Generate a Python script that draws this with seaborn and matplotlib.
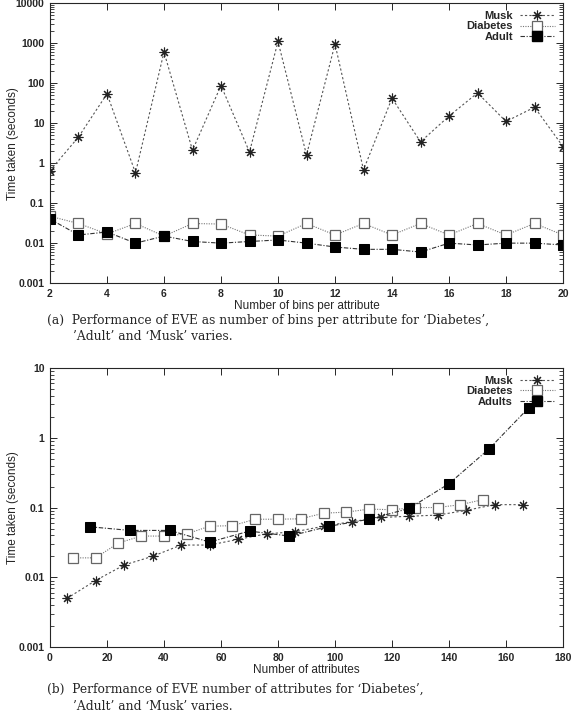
import numpy as np
import pandas as pd
import matplotlib
matplotlib.use("Agg")
import matplotlib.pyplot as plt
import seaborn as sns
from matplotlib.lines import Line2D
from matplotlib.ticker import LogLocator, FixedLocator, NullFormatter

# (a) time vs number of bins per attribute
bins = list(range(2, 21))
musk_bins = [0.65, 4.5, 54, 0.57, 600, 2.1, 87, 1.9, 1100, 1.6, 950, 0.68, 42, 3.4, 15, 57, 11, 25, 2.6]
diabetes_bins = [0.047, 0.031, 0.017, 0.031, 0.015, 0.031, 0.030, 0.016, 0.015, 0.031, 0.016,
                 0.031, 0.016, 0.031, 0.016, 0.031, 0.016, 0.031, 0.016]
adult_bins = [0.040, 0.016, 0.019, 0.010, 0.015, 0.011, 0.010, 0.011, 0.012, 0.010, 0.008,
              0.007, 0.007, 0.006, 0.010, 0.009, 0.010, 0.010, 0.009]

# (b) time vs number of attributes
musk_attr_x = [6, 16, 26, 36, 46, 56, 66, 76, 86, 96, 106, 116, 126, 136, 146, 156, 166]
musk_attr = [0.005, 0.009, 0.015, 0.020, 0.029, 0.029, 0.035, 0.042, 0.045, 0.054, 0.063,
             0.072, 0.075, 0.078, 0.091, 0.11, 0.11]
diab_attr_x = [8, 16, 24, 32, 40, 48, 56, 64, 72, 80, 88, 96, 104, 112, 120, 128, 136, 144, 152]
diab_attr = [0.019, 0.019, 0.031, 0.039, 0.039, 0.042, 0.054, 0.055, 0.068, 0.068, 0.069,
             0.083, 0.086, 0.095, 0.093, 0.10, 0.10, 0.11, 0.13]
adult_attr_x = [14, 28, 42, 56, 70, 84, 98, 112, 126, 140, 154, 168]
adult_attr = [0.053, 0.047, 0.047, 0.032, 0.046, 0.039, 0.054, 0.068, 0.097, 0.22, 0.69, 2.7]

sns.set_style("ticks")
plt.rcParams["font.family"] = ["Liberation Sans", "DejaVu Sans"]

asterisk = (8, 2, 0)
styles = {
    "Musk": dict(color="#555555", linestyle=(0, (2, 2)), linewidth=0.8, marker=asterisk,
                 markersize=7, markeredgecolor="#222222", markeredgewidth=0.8),
    "Diabetes": dict(color="#777777", linestyle=(0, (1, 1.2)), linewidth=0.8, marker="s",
                     markersize=6.5, markerfacecolor="white", markeredgecolor="#666666",
                     markeredgewidth=0.9),
    "Adult": dict(color="#333333", linestyle=(0, (4, 1.5, 1, 1.5)), linewidth=0.8, marker="s",
                  markersize=6.5, markerfacecolor="black", markeredgecolor="black"),
}

fig = plt.figure(figsize=(5.72, 7.15), dpi=100)
ax1 = fig.add_axes([0.0874, 0.604, 0.8969, 0.3916])
ax2 = fig.add_axes([0.0874, 0.095, 0.8969, 0.3903])

df_a = pd.DataFrame({"bins": bins, "Musk": musk_bins, "Diabetes": diabetes_bins, "Adult": adult_bins})
for name in ["Musk", "Diabetes", "Adult"]:
    sns.lineplot(data=df_a, x="bins", y=name, ax=ax1, legend=False, **styles[name])

sns.lineplot(x=musk_attr_x, y=musk_attr, ax=ax2, legend=False, **styles["Musk"])
sns.lineplot(x=diab_attr_x, y=diab_attr, ax=ax2, legend=False, **styles["Diabetes"])
sns.lineplot(x=adult_attr_x, y=adult_attr, ax=ax2, legend=False, **styles["Adult"])


def style_axis(ax, xlim, xticks, ylim, yticks, xlabel, names):
    ax.set_yscale("log")
    ax.set_xlim(*xlim)
    ax.set_ylim(*ylim)
    ax.set_xticks(xticks)
    ax.set_xticklabels([str(t) for t in xticks])
    ax.yaxis.set_major_locator(FixedLocator(yticks))
    ax.set_yticklabels([("%g" % t) for t in yticks])
    ax.yaxis.set_minor_locator(LogLocator(base=10, subs=np.arange(2, 10), numticks=20))
    ax.yaxis.set_minor_formatter(NullFormatter())
    ax.tick_params(which="both", direction="in", top=True, right=True, labelsize=7.5, pad=4)
    ax.tick_params(which="major", length=5, width=0.7)
    ax.tick_params(which="minor", length=3, width=0.6)
    for lab in ax.get_xticklabels() + ax.get_yticklabels():
        lab.set_fontweight("bold")
    for sp in ax.spines.values():
        sp.set_visible(True)
        sp.set_linewidth(0.8)
    ax.set_xlabel(xlabel, fontsize=8.5, labelpad=1)
    ax.set_ylabel("Time taken (seconds)", fontsize=8.5)
    ax.yaxis.set_label_coords(-0.06, 0.5)
    handles = [Line2D([], [], **styles[k]) for k in ["Musk", "Diabetes", "Adult"]]
    leg = ax.legend(handles, names, loc="upper right", frameon=False, markerfirst=False,
                    fontsize=8, numpoints=1, handlelength=3.2, handletextpad=0.6,
                    labelspacing=0.05, borderaxespad=0.3)
    for t in leg.get_texts():
        t.set_fontweight("bold")


style_axis(ax1, (2, 20), list(range(2, 21, 2)), (0.001, 10000),
           [0.001, 0.01, 0.1, 1, 10, 100, 1000, 10000], "Number of bins per attribute",
           ["Musk", "Diabetes", "Adult"])
style_axis(ax2, (0, 180), list(range(0, 181, 20)), (0.001, 10),
           [0.001, 0.01, 0.1, 1, 10], "Number of attributes",
           ["Musk", "Diabetes", "Adults"])

cap_font = dict(family=["DejaVu Serif"], fontsize=8.8, va="top", ha="left")
fig.text(0.082, 1 - 314 / 715, "(a)  Performance of EVE as number of bins per attribute for \u2018Diabetes\u2019,", **cap_font)
fig.text(0.128, 1 - 330 / 715, "\u2019Adult\u2019 and \u2018Musk\u2019 varies.", **cap_font)
fig.text(0.082, 1 - 683 / 715, "(b)  Performance of EVE number of attributes for \u2018Diabetes\u2019,", **cap_font)
fig.text(0.128, 1 - 700 / 715, "\u2019Adult\u2019 and \u2018Musk\u2019 varies.", **cap_font)

fig.savefig("out.png", dpi=100)
